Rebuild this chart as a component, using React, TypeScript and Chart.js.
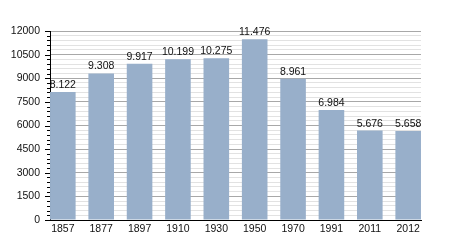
import React, { useEffect, useRef } from "react";
import { Chart, registerables } from "chart.js";

Chart.register(...registerables);

const years = ["1857", "1877", "1897", "1910", "1930", "1950", "1970", "1991", "2011", "2012"];
const population = [8122, 9308, 9917, 10199, 10275, 11476, 8961, 6984, 5676, 5658];
const yMax = 12000;
const majorStep = 1500;
const minorStep = 300;

const FONT = "'Liberation Sans', Arial, sans-serif";

function fmt(v: number): string {
  const s = String(Math.round(v));
  return s.replace(/\B(?=(\d{3})+(?!\d))/g, ".");
}

const valueLabels = {
  id: "valueLabels",
  afterDatasetsDraw(chart: any) {
    const ctx = chart.ctx;
    const meta = chart.getDatasetMeta(0);
    ctx.save();
    ctx.font = `10.5px ${FONT}`;
    ctx.fillStyle = "#111";
    ctx.textAlign = "center";
    ctx.textBaseline = "alphabetic";
    meta.data.forEach((bar: any, i: number) => {
      ctx.fillText(fmt(population[i]), bar.x, bar.y - 4);
    });
    ctx.restore();
  },
};

const tickMarks = {
  id: "tickMarks",
  afterDraw(chart: any) {
    const ctx = chart.ctx;
    const y = chart.scales.y;
    const left = chart.chartArea.left;
    ctx.save();
    ctx.strokeStyle = "#000";
    ctx.lineWidth = 1;
    for (let v = 0; v <= yMax; v += minorStep) {
      const py = Math.round(y.getPixelForValue(v)) + 0.5;
      const len = v % majorStep === 0 ? 5 : 3;
      ctx.beginPath();
      ctx.moveTo(left - len, py);
      ctx.lineTo(left, py);
      ctx.stroke();
    }
    ctx.restore();
  },
};

export default function App() {
  const ref = useRef<HTMLCanvasElement>(null);
  useEffect(() => {
    if (!ref.current) return;
    const chart = new Chart(ref.current, {
      type: "bar",
      data: {
        datasets: [
          {
            data: population.map((v, i) => ({ x: i, y: v })),
            backgroundColor: "#98afca",
            borderWidth: 0,
            barPercentage: 0.667,
            categoryPercentage: 1,
          },
        ],
      },
      options: {
        responsive: false,
        animation: false,
        layout: { padding: { top: 31, right: 29, left: 0, bottom: 0 } },
        plugins: { legend: { display: false }, tooltip: { enabled: false } },
        scales: {
          x: {
            type: "linear",
            min: -0.334,
            max: years.length - 1 + 0.334,
            offset: false,
            afterBuildTicks: (s: any) => {
              s.ticks = years.map((_, i) => ({ value: i }));
            },
            grid: { display: false, drawTicks: false },
            border: { display: true, color: "#000", width: 1 },
            ticks: {
              color: "#111",
              font: { family: FONT, size: 10.5 },
              padding: 3,
              maxRotation: 0,
              autoSkip: false,
              callback: (v: any) => years[Math.round(Number(v))] ?? "",
            },
            afterFit: (s: any) => {
              s.height = 30;
            },
          },
          y: {
            min: 0,
            max: yMax,
            grid: {
              drawTicks: false,
              color: (c: any) => (c.tick && c.tick.value % majorStep === 0 ? "#a8a8a8" : "#e2e2e2"),
            },
            border: { display: true, color: "#000", width: 1 },
            ticks: {
              stepSize: minorStep,
              autoSkip: false,
              padding: 10,
              color: "#111",
              font: { family: FONT, size: 10.5 },
              callback: (v: any) => (Number(v) % majorStep === 0 ? String(v) : ""),
            },
            afterFit: (s: any) => {
              s.width = 50;
            },
          },
        },
      },
      plugins: [valueLabels, tickMarks],
    });
    return () => chart.destroy();
  }, []);
  return (
    <div style={{ position: "absolute", left: 0, top: 0, width: 450, height: 250, background: "#fff" }}>
      <canvas ref={ref} width={450} height={250} />
    </div>
  );
}
